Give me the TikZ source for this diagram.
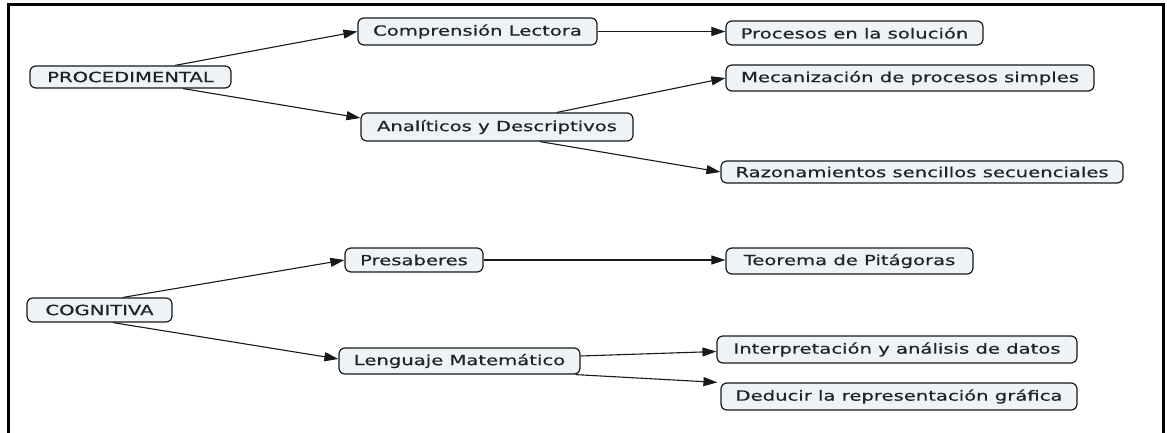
\documentclass[tikz,border=0pt]{standalone}
\usepackage{fontspec}
\setmainfont{DejaVu Sans}[FakeStretch=1.4,FakeBold=0.5]
\usetikzlibrary{arrows.meta,calc}
\definecolor{boxfill}{RGB}{237,243,246}
\definecolor{txt}{RGB}{35,35,35}
\definecolor{edge}{RGB}{25,25,25}
\begin{document}
\begin{tikzpicture}[x=1pt,y=-1pt,
  cbox/.style={draw=edge, line width=1.2pt, fill=boxfill, rounded corners=6pt,
    text=txt, inner xsep=3pt, inner ysep=0pt, font=\fontsize{14}{16}\selectfont},
  link/.style={draw=edge, line width=1.1pt, -{Triangle[length=14pt,width=9pt]}}]
\useasboundingbox (0,0) rectangle (1167,433);
\fill[white] (0,0) rectangle (1167,433);
\draw[line width=3pt] (8.5,433) -- (8.5,5) -- (1163,5) -- (1163,433);

\node[cbox, minimum width=201pt, minimum height=22pt] (proc) at (130.5,77) {PROCEDIMENTAL};
\node[cbox, minimum width=239pt, minimum height=27pt] (comp) at (477.5,31.5) {Comprensión Lectora};
\node[cbox, minimum width=257pt, minimum height=24pt] (procs) at (854.5,33) {Procesos en la solución};
\node[cbox, minimum width=368pt, minimum height=26pt] (mec) at (910,78) {Mecanización de procesos simples};
\node[cbox, minimum width=272pt, minimum height=28pt] (anal) at (497,127) {Analíticos y Descriptivos};
\node[cbox, minimum width=402pt, minimum height=22pt] (raz) at (922,172) {Razonamientos sencillos secuenciales};
\node[cbox, minimum width=145pt, minimum height=24pt] (cog) at (99.5,310) {COGNITIVA};
\node[cbox, minimum width=138pt, minimum height=24pt] (pres) at (414,260) {Presaberes};
\node[cbox, minimum width=247pt, minimum height=26pt] (teo) at (849.5,261) {Teorema de Pitágoras};
\node[cbox, minimum width=241pt, minimum height=26pt] (len) at (459.5,361) {Lenguaje Matemático};
\node[cbox, minimum width=360pt, minimum height=27pt] (int) at (897,349.5) {Interpretación y análisis de datos};
\node[cbox, minimum width=356pt, minimum height=27pt] (ded) at (899,396.5) {Deducir la representación gráfica};

\draw[link] ([xshift=44.5pt]proc.north) -- (comp.west);
\draw[link] ([xshift=52.5pt]proc.south) -- ([yshift=9pt]anal.west);
\draw[link] (comp.east) -- (comp.east -| procs.west);
\draw[link] ([xshift=60pt]anal.north) -- (mec.west);
\draw[link] ([xshift=43pt]anal.south) -- (raz.west);
\draw[link] ([xshift=23.5pt]cog.north) -- (pres.west);
\draw[link] ([xshift=13.5pt]cog.south) -- ([yshift=2pt]len.west);
\draw[link] (pres.east) -- (pres.east -| teo.west);
\draw[link] ([yshift=5pt]len.east) -- ([yshift=-2pt]int.west);
\draw[link] ([xshift=-5pt]len.south east) -- ([xshift=-3pt]ded.north west);
\end{tikzpicture}
\end{document}
